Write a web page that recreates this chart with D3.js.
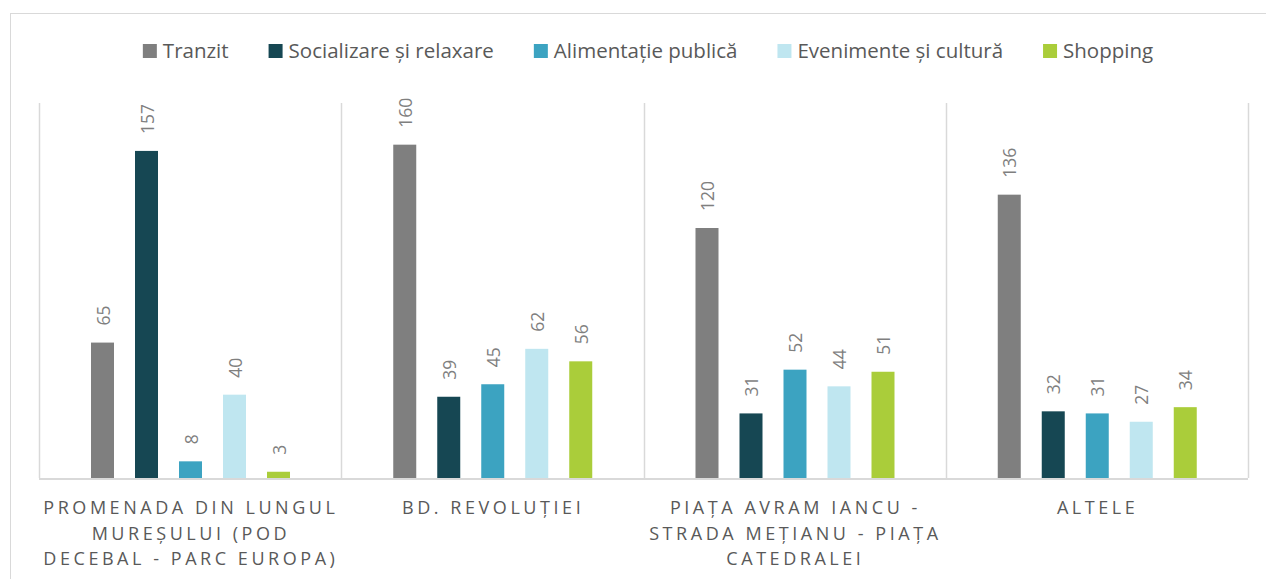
<!DOCTYPE html>
<html><head><meta charset="utf-8">
<script src="https://cdn.jsdelivr.net/npm/d3@7"></script>
<style>body{margin:0;background:#fff}svg{display:block}</style>
</head><body>
<script>
const categories = [
  ["PROMENADA DIN LUNGUL","MUREȘULUI (POD","DECEBAL - PARC EUROPA)"],
  ["BD. REVOLUȚIEI"],
  ["PIAȚA AVRAM IANCU -","STRADA MEȚIANU - PIAȚA","CATEDRALEI"],
  ["ALTELE"]
];
const seriesNames = ["Tranzit","Socializare și relaxare","Alimentație publică","Evenimente și cultură","Shopping"];
const tranzit = [65,160,120,136];
const socializare = [157,39,31,32];
const alimentatie = [8,45,52,31];
const evenimente = [40,62,44,27];
const shopping = [3,56,51,34];
const colors = ["#7f7f7f","#164753","#3ca3c1","#bfe6f0","#aacd3a"];
const yMax = 180;

const series = [tranzit, socializare, alimentatie, evenimente, shopping];
const W = 1266, H = 579;
const svg = d3.select("body").append("svg").attr("width", W).attr("height", H);
const font = "Open Sans, Noto Sans, sans-serif";

svg.append("rect").attr("x",10.5).attr("y",13.5).attr("width",1270).attr("height",600)
  .attr("fill","#fff").attr("stroke","#d9d9d9").attr("stroke-width",1);

const pLeft = 39, pRight = 1248, pTop = 103, pBottom = 478;
const x0 = d3.scaleBand().domain(d3.range(categories.length)).range([pLeft,pRight]).paddingInner(0).paddingOuter(0);
const x1 = d3.scaleBand().domain(d3.range(series.length)).range([52, 251]).paddingInner(21/44).paddingOuter(0);
const y = d3.scaleLinear().domain([0,yMax]).range([pBottom,pTop]);

const bounds = categories.map((c,i)=>x0(i)).concat([pRight]);
svg.append("g").selectAll("line").data(bounds).join("line")
  .attr("x1",d=>Math.round(d)+0.5).attr("x2",d=>Math.round(d)+0.5)
  .attr("y1",pTop).attr("y2",pBottom)
  .attr("stroke","#d9d9d9").attr("stroke-width",1.5);

const g = svg.append("g");
categories.forEach((c,ci)=>{
  series.forEach((s,si)=>{
    const bx = x0(ci) + x1(si);
    g.append("rect").attr("x",bx).attr("y",y(s[ci])).attr("width",x1.bandwidth())
      .attr("height",pBottom-y(s[ci])).attr("fill",colors[si]);
    const lx = bx + x1.bandwidth()/2 + 7, ly = y(s[ci]) - 17;
    g.append("text").attr("transform",`translate(${lx},${ly}) rotate(-90)`)
      .attr("font-family",font).attr("font-size",17.5).attr("fill","#7f7f7f")
      .attr("text-anchor","start").text(s[ci]);
  });
});

svg.append("line").attr("x1",pLeft).attr("x2",pRight).attr("y1",pBottom+1).attr("y2",pBottom+1)
  .attr("stroke","#d9d9d9").attr("stroke-width",2);

const ls = 3.55;
categories.forEach((lines,ci)=>{
  const cx = x0(ci) + x0.bandwidth()/2;
  lines.forEach((ln,li)=>{
    svg.append("text").attr("x",cx+ls/2-1).attr("y",514+li*25.5)
      .attr("text-anchor","middle").attr("font-family",font).attr("font-size",18)
      .attr("letter-spacing",ls+"px").attr("fill","#595959").text(ln);
  });
});

const lg = svg.append("g");
const items = seriesNames.map((n,i)=>{
  const it = lg.append("g");
  it.append("rect").attr("x",0).attr("y",-7).attr("width",14).attr("height",14).attr("fill",colors[i]);
  const t = it.append("text").attr("x",20).attr("y",7.3).attr("font-family",font).attr("font-size",20.5)
    .attr("fill","#595959").text(n);
  return {it, w: 20 + t.node().getComputedTextLength()};
});
const gap = 40;
const total = d3.sum(items,d=>d.w) + gap*(items.length-1);
let lx0 = 648 - total/2;
items.forEach(d=>{ d.it.attr("transform",`translate(${lx0},51)`); lx0 += d.w + gap; });
</script>
</body></html>
